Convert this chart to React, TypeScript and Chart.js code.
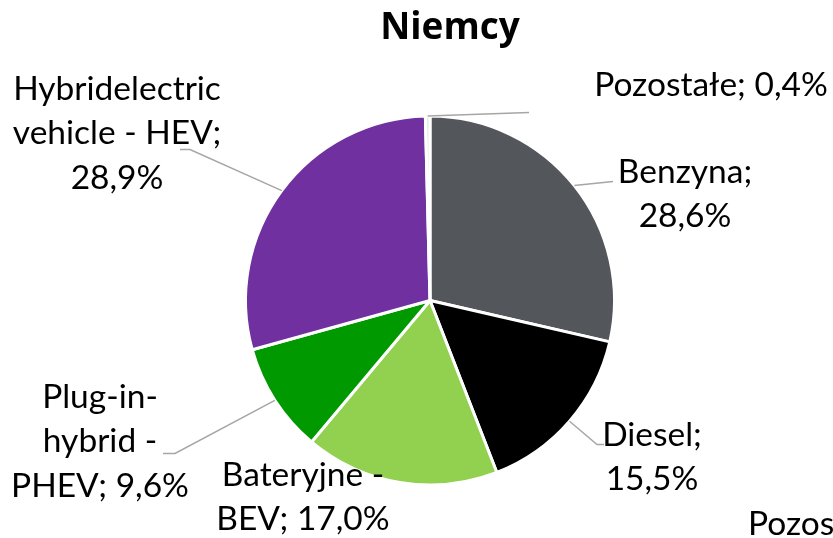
import React, { useEffect, useRef } from "react";
import { Chart, registerables } from "chart.js";
Chart.register(...registerables);

const chartTitle = "Niemcy";
const categories = ["Benzyna", "Diesel", "Bateryjne - BEV", "Plug-in-hybrid - PHEV", "Hybridelectric vehicle - HEV", "Pozostałe"];
const shares = [28.6, 15.5, 17.0, 9.6, 28.9, 0.4];
const sliceColors = ["#53565A", "#000000", "#92D050", "#009900", "#7030A0", "#E2F0D9"];
const clippedNeighbourLabel = "Pozostałe;";

const LABEL_FONT = '33.5px "Lato"';
const TITLE_FONT = 'bold 37px "Open Sans"';
const LINE_H = 44.5;
const LEADER = "#A6A6A6";

// Label layout (offsets relative to the pie centre, in px)
type Layout = { dx: number; dy: number; maxW: number; leader: [number, number][] };
const layouts: Layout[] = [
  { dx: 255, dy: -118, maxW: 150, leader: [[183, -119]] },
  { dx: 222, dy: 145, maxW: 120, leader: [[167, 144], [174, 144]] },
  { dx: -127, dy: 185, maxW: 190, leader: [] },
  { dx: -330, dy: 107, maxW: 180, leader: [[-255, 153], [-267, 153]] },
  { dx: -313, dy: -201, maxW: 215, leader: [[-240, -151], [-250, -151]] },
  { dx: 281, dy: -205, maxW: 320, leader: [[99, -188]] },
];

const fmt = (v: number) => v.toFixed(1).replace(".", ",") + "%";

function wrap(ctx: CanvasRenderingContext2D, text: string, maxW: number): string[] {
  const tokens = text.split(/(?<=\s)|(?<=-)(?=\S)/);
  const lines: string[] = [];
  let cur = "";
  for (const t of tokens) {
    const trial = cur + t;
    if (cur && ctx.measureText(trial.trimEnd()).width > maxW) {
      lines.push(cur.trimEnd());
      cur = t;
    } else cur = trial;
  }
  if (cur.trim()) lines.push(cur.trimEnd());
  return lines;
}

const labelPlugin = {
  id: "pieLabels",
  afterDraw(chart: any) {
    const ctx: CanvasRenderingContext2D = chart.ctx;
    const meta = chart.getDatasetMeta(0);
    ctx.save();
    // title
    ctx.font = TITLE_FONT;
    ctx.fillStyle = "#000";
    ctx.textAlign = "center";
    ctx.textBaseline = "alphabetic";
    ctx.fillText(chartTitle, 450, 39);

    ctx.font = LABEL_FONT;
    meta.data.forEach((arc: any, i: number) => {
      const L = layouts[i];
      if (!L) return;
      const cx = arc.x, cy = arc.y;
      const mid = (arc.startAngle + arc.endAngle) / 2;
      const r = arc.outerRadius;
      if (L.leader.length) {
        ctx.beginPath();
        ctx.strokeStyle = LEADER;
        ctx.lineWidth = 1.5;
        ctx.moveTo(cx + Math.cos(mid) * r, cy + Math.sin(mid) * r);
        for (const [px, py] of L.leader) ctx.lineTo(cx + px, cy + py);
        ctx.stroke();
      }
      const text = `${categories[i]}; ${fmt(shares[i])}`;
      const lines = wrap(ctx, text, L.maxW);
      ctx.fillStyle = "#000";
      ctx.textAlign = "center";
      lines.forEach((ln, k) => ctx.fillText(ln, cx + L.dx, cy + L.dy + k * LINE_H));
    });
    // label of the neighbouring chart, cut by the right edge
    ctx.textAlign = "left";
    ctx.fillText(clippedNeighbourLabel, 748, 535);
    ctx.restore();
  },
};

export default function App() {
  const ref = useRef<HTMLCanvasElement>(null);
  useEffect(() => {
    const chart = new Chart(ref.current!, {
      type: "pie",
      data: {
        labels: categories,
        datasets: [{ data: shares, backgroundColor: sliceColors, borderColor: "#FFFFFF", borderWidth: 3 }],
      },
      options: {
        responsive: false,
        animation: false,
        layout: { padding: { top: 114, bottom: 51, left: 244, right: 217 } },
        plugins: { legend: { display: false }, tooltip: { enabled: false }, title: { display: false } },
      },
      plugins: [labelPlugin],
    });
    return () => chart.destroy();
  }, []);
  return (
    <div style={{ position: "absolute", left: 0, top: 0, width: 833, height: 538, background: "#fff" }}>
      <canvas ref={ref} width={833} height={538} style={{ display: "block" }} />
    </div>
  );
}
